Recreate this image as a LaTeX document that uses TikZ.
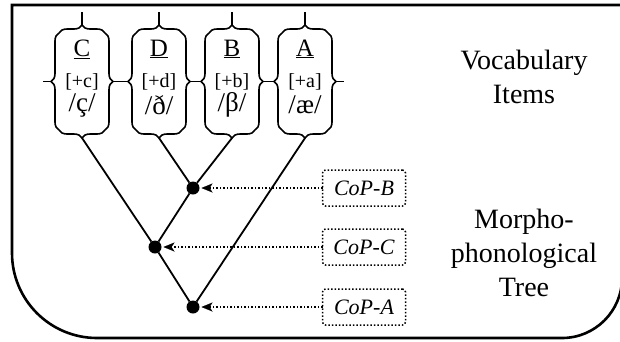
\documentclass[tikz,border=0pt]{standalone}
\usepackage{fontspec}
\setmainfont{Liberation Serif}
\usetikzlibrary{arrows,arrows.meta,positioning,decorations.pathreplacing}

\begin{document}
\begin{tikzpicture}[x=1pt,y=1pt,thick]
\tikzstyle{every node}=[inner sep=0pt,outer sep=0pt]
\tikzstyle{brc}=[decorate,decoration={brace,amplitude=8pt},line width=1.6pt]
\tikzstyle{word}=[font=\fontsize{25}{27}\selectfont]
\tikzstyle{feat}=[font=\fontsize{20}{22}\selectfont]
\tikzstyle{phon}=[font=\fontsize{27}{29}\selectfont]
\tikzstyle{dot}=[circle,fill=black,minimum size=13pt]
\tikzstyle{cop}=[draw,dotted,line width=1.5pt,rounded corners=3pt,minimum width=83pt,minimum height=36pt,font=\fontsize{22}{24}\selectfont\itshape]
\tikzstyle{side}=[align=center,font=\fontsize{28}{34}\selectfont]
\tikzstyle{branch}=[line width=1.8pt]
\tikzstyle{point}=[-{Stealth[length=11pt,width=9pt,inset=3pt,line width=0.1pt]},dotted,line width=1.5pt,shorten >=2pt]

\useasboundingbox (0,0) rectangle (620,-341);
\draw[line width=2.6pt] (630,-5) -- (12,-5) -- (12,-253) arc[start angle=180,end angle=270,radius=85] -- (562,-338) arc[start angle=270,end angle=360,radius=60] -- (624,0);

% braces round the vocabulary items
\foreach \x/\n in {82/C,159/D,232/B,305/A}{
  \draw[brc] (\x-23,-130) -- (\x-23,-33);
  \draw[brc] (\x-23,-33) -- (\x+23,-33);
  \draw[brc] (\x+23,-33) -- (\x+23,-130);
  \draw[brc] (\x+23,-130) -- (\x-23,-130);
  \draw[line width=1.6pt] (\x,-25) -- (\x,-12) (\x-31,-81.5) -- (\x-39,-81.5) (\x+31,-81.5) -- (\x+39,-81.5);
  \coordinate (\n b) at (\x,-138);
}

\node[word] (C)  at (82,-49) {\underline{C}};
\node[feat] (Cf) [below of=C,node distance=33pt] {[+c]};
\node[phon] (Cp) [below of=Cf,node distance=23pt] {/ç/};
\node[word] (D)  at (159,-49) {\underline{D}};
\node[feat] (Df) [below of=D,node distance=33pt] {[+d]};
\node[phon] (Dp) [below of=Df,node distance=23pt] {/ð/};
\node[word] (B)  at (232,-49) {\underline{B}};
\node[feat] (Bf) [below of=B,node distance=33pt] {[+b]};
\node[phon] (Bp) [below of=Bf,node distance=23pt] {/β/};
\node[word] (A)  at (305,-49) {\underline{A}};
\node[feat] (Af) [below of=A,node distance=33pt] {[+a]};
\node[phon] (Ap) [below of=Af,node distance=23pt] {/æ/};

% tree
\node[dot] (b) at (193,-188) {};
\node[dot] (c) at (155,-247) {};
\node[dot] (a) at (193,-307) {};
\node[cop] (pb) [right of=b,node distance=171pt] {CoP-B};
\node[cop] (pc) [right of=c,node distance=209pt] {CoP-C};
\node[cop] (pa) [right of=a,node distance=171pt] {CoP-A};

\path[branch]
(Db) edge (b)
(Bb) edge (b)
(b) edge (c)
(Cb) edge (c)
(c) edge (a)
(Ab) edge (a)
;
\path
(pb) edge[point] (b)
(pc) edge[point] (c)
(pa) edge[point] (a)
;

\node[side] (V) at (524,-77) {Vocabulary\\Items};
\node[side] (M) [below of=V,node distance=176pt] {Morpho-\\phonological\\Tree};
\end{tikzpicture}
\end{document}
